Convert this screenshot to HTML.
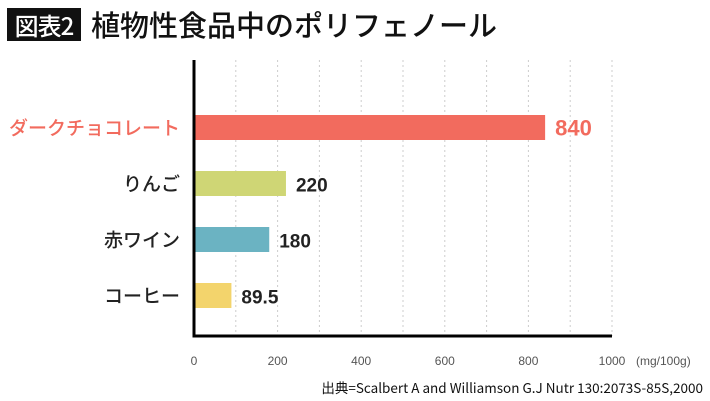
<!DOCTYPE html>
<html><head><meta charset="utf-8"><style>
body{margin:0;width:710px;height:401px;background:#fff;overflow:hidden;font-family:"Liberation Sans","Noto Sans CJK JP",sans-serif}
#title-badge{position:absolute;left:7px;top:8px;width:74px;height:33px;background:#111;color:#fff;font:500 24px "Noto Sans CJK JP",sans-serif;line-height:33px;text-align:center;letter-spacing:-1px}
#title{position:absolute;left:91px;top:3px;font:500 29px "Noto Sans CJK JP",sans-serif;color:#111;letter-spacing:0px;white-space:nowrap}
svg{position:absolute;left:0;top:0}
</style></head><body>
<div id="title-badge">図表2</div>
<div id="title">植物性食品中のポリフェノール</div>
<svg id="chart" width="710" height="401"></svg>
<script>
const categories=["ダークチョコレート","りんご","赤ワイン","コーヒー"];
const values=[840,220,180,89.5];
const valueLabels=["840","220","180","89.5"];
const colors=["#f26b5e","#cfd675","#6bb3c2","#f3d46c"];
const ticks=[0,200,400,600,800,1000];
const grid=[100,200,300,400,500,600,700,800,900,1000];
const NS="http://www.w3.org/2000/svg";
const svg=document.getElementById('chart');
const x0=194,x1=612,plotTop=60,plotBottom=336;
const x=v=>x0+(x1-x0)*v/1000;
const yc=i=>127.5+56*i;
function mk(t,a){const e=document.createElementNS(NS,t);for(const k in a)e.setAttribute(k,a[k]);svg.appendChild(e);return e;}
grid.forEach(g=>{const l=mk('line',{x1:x(g),x2:x(g),y1:plotTop,y2:plotBottom,stroke:'#ccc','stroke-width':1,'stroke-dasharray':'2,3'});

});
categories.forEach((c,i)=>{
const r=mk('rect',{x:x0,y:yc(i)-12.5,width:x(values[i])-x0,height:25,fill:colors[i]});


const red=i===0;
const t=mk('text',{x:180,y:yc(i)+7,'text-anchor':'end','font-size':19,'font-weight':500,fill:red?'#f26b5e':'#222','font-family':'"Noto Sans CJK JP",sans-serif'});
t.textContent=c;


const v=mk('text',{x:x(values[i])+10,y:yc(i)+8,'font-size':red?22:19,'font-weight':'bold',fill:red?'#f26b5e':'#222'});
v.textContent=valueLabels[i];


});
const ya=mk('line',{x1:x0,x2:x0,y1:plotTop,y2:plotBottom+1.5,stroke:'#000','stroke-width':3});


const xa=mk('line',{x1:x0-1.5,x2:x1,y1:plotBottom,y2:plotBottom,stroke:'#000','stroke-width':3});


ticks.forEach(tv=>{const t=mk('text',{x:x(tv),y:365,'text-anchor':'middle','font-size':12,fill:'#555'});
t.textContent=tv;

});
const u=mk('text',{x:636,y:365,'font-size':12,fill:'#555'});
u.textContent='(mg/100g)';


const s=mk('text',{x:703,y:393,'text-anchor':'end','font-size':13.5,fill:'#111','font-family':'"Noto Sans CJK JP",sans-serif'});
s.textContent='出典=Scalbert A and Williamson G.J Nutr 130:2073S-85S,2000';


</script>
</body></html>
